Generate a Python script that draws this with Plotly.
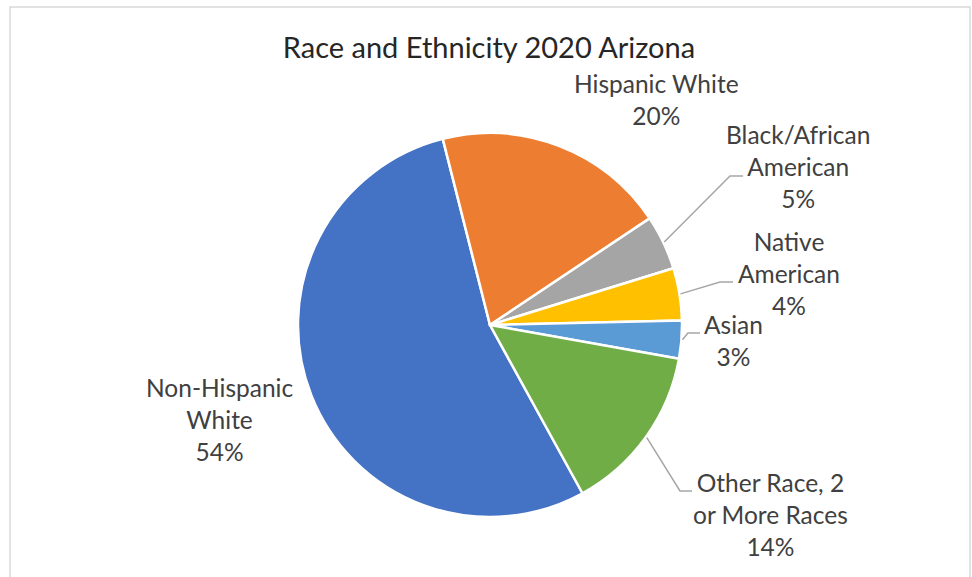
import math
import plotly.graph_objects as go

# Arizona 2020 population shares by race / ethnicity (percent)
categories = [
    "Non-Hispanic White",
    "Hispanic White",
    "Black/African American",
    "Native American",
    "Asian",
    "Other Race, 2 or More Races",
]
shares = [54.1, 19.6, 4.6, 4.4, 3.2, 14.2]
colors = ["#4472C4", "#ED7D31", "#A5A5A5", "#FFC000", "#5B9BD5", "#70AD47"]

title_text = "Race and Ethnicity 2020 Arizona"

# ---- layout constants (pixels) ----
W, H = 972, 577
CX, CY, R = 490, 325, 192          # pie centre and radius
FIRST_SLICE_ANGLE = 151.2          # clockwise from 12 o'clock
FONT = "Lato"
LABEL_COLOR = "#404040"
LEADER_COLOR = "#A6A6A6"

# how each category name wraps in its data label
wrapped = {
    "Non-Hispanic White": "Non-Hispanic<br>White",
    "Hispanic White": "Hispanic White",
    "Black/African American": "Black/African<br>American",
    "Native American": "Native<br>American",
    "Asian": "Asian",
    "Other Race, 2 or More Races": "Other Race, 2<br>or More Races",
}
# label block centre, and leader elbow / end points (None -> no leader line)
label_layout = {
    "Non-Hispanic White": ((219, 419), None),
    "Hispanic White": ((656, 100), None),
    "Black/African American": ((798, 166), ((730, 176), (743, 176))),
    "Native American": ((789, 273), ((720, 282), (733, 282))),
    "Asian": ((733, 340), ((688, 333), (700, 333))),
    "Other Race, 2 or More Races": ((770, 514), ((680, 491), (692, 491))),
}


def px(x):
    return x / W


def py(y):
    return 1 - y / H


fig = go.Figure(
    go.Pie(
        labels=categories,
        values=shares,
        sort=False,
        direction="clockwise",
        rotation=FIRST_SLICE_ANGLE,
        marker=dict(colors=colors, line=dict(color="white", width=2.5)),
        textinfo="none",
        hoverinfo="label+percent",
        showlegend=False,
        domain=dict(x=[px(CX - R), px(CX + R)], y=[py(CY + R), py(CY - R)]),
    )
)

total = sum(shares)
annotations = []
shapes = []
angle = FIRST_SLICE_ANGLE
for name, value in zip(categories, shares):
    span = value / total * 360.0
    mid = math.radians(angle + span / 2.0)
    angle += span
    pct = round(value / total * 100)
    (lx, ly), leader = label_layout[name]
    annotations.append(
        dict(
            x=px(lx), y=py(ly), xref="paper", yref="paper",
            xanchor="center", yanchor="middle", align="center",
            text=f"{wrapped[name]}<br>{pct}%", showarrow=False,
            font=dict(family=FONT, size=24.5, color=LABEL_COLOR),
        )
    )
    if leader:
        sx = CX + (R + 1) * math.sin(mid)
        sy = CY - (R + 1) * math.cos(mid)
        (ex, ey), (fx, fy) = leader
        path = f"M {px(sx)},{py(sy)} L {px(ex)},{py(ey)} L {px(fx)},{py(fy)}"
        shapes.append(
            dict(type="path", xref="paper", yref="paper", path=path,
                 line=dict(color=LEADER_COLOR, width=1.5))
        )

# chart-area border
shapes.append(
    dict(type="rect", xref="paper", yref="paper",
         x0=px(10), x1=px(970), y0=py(590), y1=py(7),
         line=dict(color="#D9D9D9", width=1.5), fillcolor="rgba(0,0,0,0)")
)

fig.update_layout(
    width=W, height=H,
    margin=dict(l=0, r=0, t=0, b=0),
    paper_bgcolor="white",
    plot_bgcolor="white",
    title=dict(
        text=title_text, x=px(489), y=py(48), xanchor="center", yanchor="middle",
        font=dict(family=FONT, size=29, color="#262626"),
    ),
    annotations=annotations,
    shapes=shapes,
)

fig.write_html("out.html")
